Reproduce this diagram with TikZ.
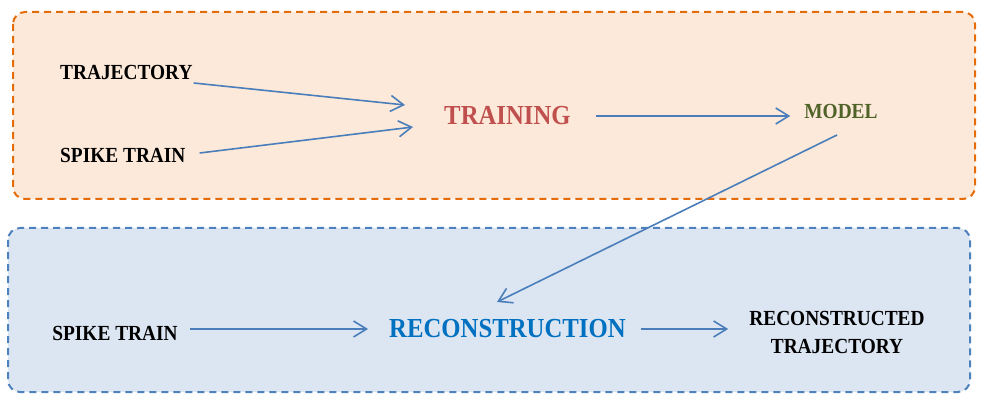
\documentclass[tikz,border=0pt]{standalone}
\usepackage{fontspec}
\setmainfont{Liberation Serif}[FakeStretch=0.9]
\usepackage{xcolor}
\usepackage{tikz}
\usetikzlibrary{arrows.meta, calc, positioning}

\definecolor{trainborder}{RGB}{228,108,10}
\definecolor{trainfill}{RGB}{253,233,217}
\definecolor{reconborder}{RGB}{79,129,189}
\definecolor{reconfill}{RGB}{220,230,242}
\definecolor{flowblue}{RGB}{74,126,187}
\definecolor{trainred}{RGB}{192,80,77}
\definecolor{modelgreen}{RGB}{79,98,40}
\definecolor{reconblue}{RGB}{0,112,192}

\begin{document}
\begin{tikzpicture}[x=1pt, y=-1pt,
    stage/.style={line width=2pt, dash pattern=on 7pt off 5pt, rounded corners=12pt},
    word/.style={inner sep=0pt, font=\fontsize{21.5}{28}\selectfont\bfseries},
    bigword/.style={inner sep=0pt, font=\fontsize{27.5}{32}\selectfont\bfseries},
    flow/.style={draw=flowblue, line width=1.6pt, -{Straight Barb[length=13pt, width=16pt]}}]
\useasboundingbox (0,0) rectangle (989,409);

% Stage backgrounds
\draw[stage, draw=trainborder, fill=trainfill] (13,12) rectangle (975,199);
\draw[stage, draw=reconborder, fill=reconfill] (8,228) rectangle (970,392);

% Training stage
\node[word, anchor=base west] (traj) at (60,80) {TRAJECTORY};
\node[word, anchor=base west] (spikeA) at (60,163) {SPIKE TRAIN};
\node[bigword, anchor=base, text=trainred] (train) at (507.5,125) {TRAINING};
\node[word, anchor=base, text=modelgreen] (model) at (841,119) {MODEL};

% Reconstruction stage
\node[word, anchor=base] (spikeB) at (115,340) {SPIKE TRAIN};
\node[bigword, anchor=base, text=reconblue] (recon) at (507.5,337) {RECONSTRUCTION};
\node[word, align=center, text=black] (rtraj) at (837,332) {RECONSTRUCTED\\TRAJECTORY};

% Connectors
\draw[flow] ($(traj.base east)+(1,3)$) -- ($(train.base west)+(-39,-20)$);
\draw[flow] ($(spikeA.base east)+(14,-10)$) -- ($(train.base west)+(-31,2)$);
\draw[flow] ($(train.base east)+(25,-9)$) -- ($(model.base west)+(-14,-3)$);
\draw[flow] ($(model.base)+(-4,16)$) -- ($(recon.base)+(-10.5,-35)$);
\draw[flow] ($(spikeB.base east)+(12,-11)$) -- ($(recon.base west)+(-21,-8)$);
\draw[flow] ($(recon.base east)+(15,-8)$) -- ($(rtraj.west)+(-21,-3)$);

\end{tikzpicture}
\end{document}
